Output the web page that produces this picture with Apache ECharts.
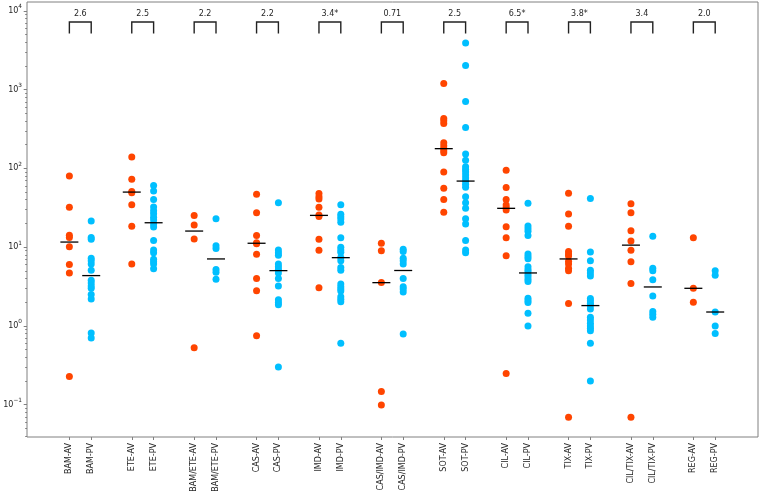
<!DOCTYPE html>
<html><head><meta charset="utf-8">
<script src="https://cdn.jsdelivr.net/npm/echarts@6/dist/echarts.min.js"></script>
<style>html,body{margin:0;padding:0;background:#fff}#c{width:760px;height:499px}</style>
</head><body><div id="c"></div>
<script>
// ---- data ----
const categories = ['BAM-AV','BAM-PV','ETE-AV','ETE-PV','BAM/ETE-AV','BAM/ETE-PV','CAS-AV','CAS-PV','IMD-AV','IMD-PV','CAS/IMD-AV','CAS/IMD-PV','SOT-AV','SOT-PV','CIL-AV','CIL-PV','TIX-AV','TIX-PV','CIL/TIX-AV','CIL/TIX-PV','REG-AV','REG-PV'];

const bamAV = [80, 32, 14.2, 13.3, 10.1, 6.0, 4.7, 0.228];
const bamPV = [21.5, 13.3, 12.6, 7.2, 6.7, 6.1, 5.1, 3.8, 3.5, 3.2, 3.0, 2.5, 2.2, 0.81, 0.70];
const eteAV = [140, 73, 51, 49, 34.5, 18.4, 6.1];
const etePV = [60.5, 51.5, 40.4, 32.3, 29, 26.6, 23.9, 22.1, 19.7, 18.0, 12.1, 9.2, 8.5, 7.0, 6.5, 6.1, 5.3];
const bamEteAV = [25.3, 19.1, 12.7, 0.526];
const bamEtePV = [23, 10.4, 9.6, 5.2, 4.8, 3.9];
const casAV = [46.8, 27.3, 14.1, 11.4, 11.0, 8.1, 4.0, 2.8, 0.75];
const casPV = [36.6, 9.2, 8.5, 7.9, 6.1, 5.65, 5.2, 4.7, 4.0, 3.2, 2.14, 1.98, 1.86, 0.30];
const imdAV = [47.9, 43.6, 40.8, 32, 25.5, 24.5, 12.6, 9.1, 3.06];
const imdPV = [34.5, 26.1, 24.3, 22.8, 20.7, 13.2, 10.0, 9.2, 8.6, 7.4, 6.7, 5.5, 5.1, 3.4, 3.15, 2.95, 2.78, 2.35, 2.18, 2.02, 0.60];
const casImdAV = [11.2, 9.0, 3.55, 0.147, 0.099];
const casImdPV = [9.4, 8.8, 7.2, 6.7, 6.1, 4.0, 3.15, 2.95, 2.7, 0.79];
const sotAV = [1197, 431, 402, 372, 211, 194, 179, 167, 158, 90, 55.8, 40.4, 27.7];
const sotPV = [3917, 2024, 707, 331, 152, 127, 105, 96.6, 89.8, 82.2, 75.4, 69, 62.7, 57.4, 43.6, 36.6, 31.1, 23, 19.7, 12.1, 9.2, 8.5];
const cilAV = [95, 57.1, 40.4, 34.2, 31.8, 29.6, 18.2, 13.2, 7.8, 0.248];
const cilPV = [36, 18.5, 17.1, 15.9, 14.1, 8.2, 7.6, 7.1, 5.65, 5.2, 4.9, 4.5, 4.2, 3.9, 3.65, 2.25, 2.1, 1.98, 1.45, 1.0];
const tixAV = [48.2, 26.3, 18.4, 8.8, 8.2, 7.7, 6.6, 6.1, 5.4, 5.0, 1.93, 0.069];
const tixPV = [41.6, 8.7, 6.7, 5.1, 4.7, 4.3, 2.23, 2.08, 1.94, 1.81, 1.64, 1.29, 1.19, 1.08, 1.0, 0.935, 0.87, 0.60, 0.199];
const cilTixAV = [35.6, 27.3, 16.2, 12.0, 9.1, 6.5, 3.44, 0.069];
const cilTixPV = [13.7, 5.4, 5.0, 3.84, 2.4, 1.52, 1.4, 1.29];
const regAV = [13.2, 3.0, 2.0];
const regPV = [5.0, 4.4, 1.5, 1.0, 0.80];

const avMedians = [11.6, 50, 16.0, 11.2, 25.3, 3.54, 178, 31.1, 7.08, 10.6, 3.0];
const pvMedians = [4.35, 20.4, 7.08, 5.03, 7.35, 5.05, 69, 4.7, 1.81, 3.12, 1.5];
const ratioLabels = ['2.6','2.5','2.2','2.2','3.4*','0.71','2.5','6.5*','3.8*','3.4','2.0'];

const yMajorTicks = [0.1, 1, 10, 100, 1000, 10000];
const yExponents = ['−1', '0', '1', '2', '3', '4'];
const yMinorTicks = [0.04,0.05,0.06,0.07,0.08,0.09,0.2,0.3,0.4,0.5,0.6,0.7,0.8,0.9,2,3,4,5,6,7,8,9,20,30,40,50,60,70,80,90,200,300,400,500,600,700,800,900,2000,3000,4000,5000,6000,7000,8000,9000];

// ---- layout ----
const avGroups = [bamAV, eteAV, bamEteAV, casAV, imdAV, casImdAV, sotAV, cilAV, tixAV, cilTixAV, regAV];
const pvGroups = [bamPV, etePV, bamEtePV, casPV, imdPV, casImdPV, sotPV, cilPV, tixPV, cilTixPV, regPV];
const OFF = 0.175;
const xPositions = categories.map((c, k) => Math.floor(k / 2) + (k % 2 === 0 ? -OFF : OFF));
const labelMap = {};
xPositions.forEach((p, k) => { labelMap[p.toFixed(3)] = categories[k]; });

const avData = [], pvData = [];
avGroups.forEach((arr, g) => arr.forEach(v => avData.push([g - OFF, v])));
pvGroups.forEach((arr, g) => arr.forEach(v => pvData.push([g + OFF, v])));
const medianData = [];
avMedians.forEach((m, g) => medianData.push([g - OFF, m]));
pvMedians.forEach((m, g) => medianData.push([g + OFF, m]));

const FONT = 'DejaVu Sans';
const TXT = '#262626';
const SPINE = '#808080';
const BRACKET_TOP = 7230;

const chart = echarts.init(document.getElementById('c'), null, {renderer: 'canvas'});
chart.setOption({
  animation: false,
  backgroundColor: '#fff',
  grid: {left: 27, right: 2, top: 2, bottom: 62, show: true, borderColor: SPINE, borderWidth: 1, backgroundColor: 'transparent'},
  xAxis: {
    type: 'value', min: -0.854, max: 10.861,
    splitLine: {show: false}, axisLine: {show: false, onZero: false},
    axisTick: {customValues: xPositions, length: 3, lineStyle: {color: SPINE}},
    axisLabel: {customValues: xPositions, rotate: 90, margin: 6, fontSize: 8, color: TXT, fontFamily: FONT,
      formatter: v => labelMap[Number(v).toFixed(3)] || ''}
  },
  yAxis: [{
    type: 'log', logBase: 10, min: 0.0388, max: 12970,
    splitLine: {show: false}, axisLine: {show: false, onZero: false},
    axisTick: {customValues: yMajorTicks, length: 3.3, lineStyle: {color: SPINE}},
    axisLabel: {customValues: yMajorTicks, margin: 5, color: TXT, fontFamily: FONT,
      formatter: v => {
        const i = yMajorTicks.findIndex(t => Math.abs(Math.log10(t) - Math.log10(v)) < 1e-6);
        return i < 0 ? '' : '{n|10}{s|' + yExponents[i] + '}';
      },
      rich: {
        n: {fontSize: 8, fontFamily: FONT, color: TXT, lineHeight: 14, verticalAlign: 'middle'},
        s: {fontSize: 5.8, fontFamily: FONT, color: TXT, lineHeight: 7, verticalAlign: 'top'}
      }}
  }, {
    type: 'log', logBase: 10, min: 0.0388, max: 12970, position: 'left',
    splitLine: {show: false}, axisLine: {show: false, onZero: false}, axisLabel: {show: false},
    axisTick: {customValues: yMinorTicks, length: 1.8, lineStyle: {color: SPINE}}
  }],
  series: [
    {type: 'scatter', name: 'AV', data: avData, symbolSize: 7, itemStyle: {color: '#ff4500', opacity: 1}, z: 2},
    {type: 'scatter', name: 'PV', data: pvData, symbolSize: 7, itemStyle: {color: '#00bfff', opacity: 1}, z: 2},
    {type: 'custom', name: 'median', data: medianData, z: 5, clip: false,
      renderItem: (params, api) => {
        const p = api.coord([api.value(0), api.value(1)]);
        return {type: 'line', shape: {x1: p[0] - 9, y1: p[1], x2: p[0] + 9, y2: p[1]}, style: {stroke: '#000', lineWidth: 1.3}};
      }},
    {type: 'custom', name: 'brackets', data: ratioLabels.map((t, g) => [g, BRACKET_TOP]), z: 5, clip: false,
      renderItem: (params, api) => {
        const g = api.value(0);
        const a = api.coord([g - OFF, api.value(1)]);
        const b = api.coord([g + OFF, api.value(1)]);
        const yt = a[1], yb = yt + 11.6;
        return {type: 'group', children: [
          {type: 'polyline', shape: {points: [[a[0], yb], [a[0], yt], [b[0], yt], [b[0], yb]]}, style: {stroke: '#222', fill: null, lineWidth: 1.4}},
          {type: 'text', style: {text: ratioLabels[params.dataIndex], x: (a[0] + b[0]) / 2, y: yt - 7.7, align: 'center', verticalAlign: 'middle', fontSize: 8, fontFamily: FONT, fill: TXT}}
        ]};
      }}
  ]
});
</script></body></html>
